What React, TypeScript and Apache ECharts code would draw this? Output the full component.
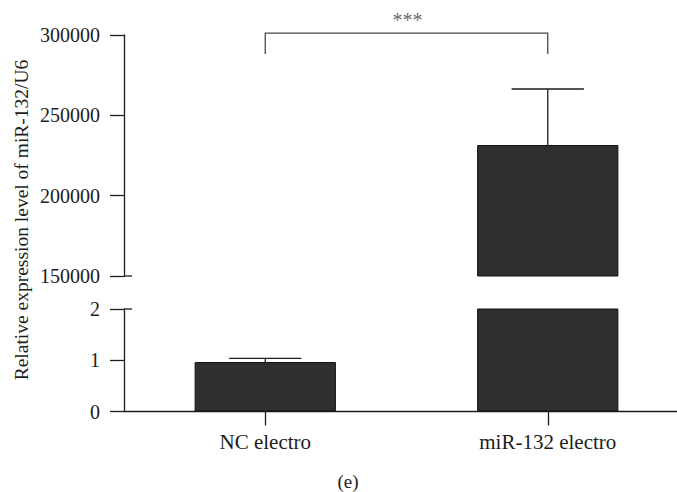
import React, { useEffect, useRef } from "react";
import * as echarts from "echarts";

// ---- data ----
const categories = ["NC electro", "miR-132 electro"];
const means = [0.965, 231500];
const errorsUp = [0.07, 34900];
// axis segments (broken axis)
const topAxis = { min: 150000, max: 300000, interval: 50000 };
const bottomAxis = { min: 0, max: 2, interval: 1 };
const significance = "***";
const bracketLevel = 301200;
const bracketDrop = 288200;
const yTitle = "Relative expression level of miR-132/U6";
const panelLabel = "(e)";

const FONT = "Liberation Serif";
const INK = "#1e1c1d";
const BAR = "#2e2f31";

export default function App() {
  const ref = useRef<HTMLDivElement>(null);
  useEffect(() => {
    if (!ref.current) return;
    const chart = echarts.init(ref.current, null, { renderer: "svg" });
    const errData = categories.map((_, i) => [i, means[i], errorsUp[i]]);

    const errSeries = (gi: number, lo: number, hi: number) => ({
      type: "custom",
      xAxisIndex: gi,
      yAxisIndex: gi,
      clip: false,
      z: 5,
      data: errData,
      encode: { x: 0, y: 1 },
      renderItem: (params: any, api: any) => {
        const idx = api.value(0);
        const m = api.value(1);
        const e = api.value(2);
        if (m < lo || m > hi) return null;
        const b = api.coord([idx, m]);
        const t = api.coord([idx, m + e]);
        const half = api.size([1, 0])[0] * 0.128;
        const st = { stroke: INK, lineWidth: 1.3 };
        return {
          type: "group",
          children: [
            { type: "line", shape: { x1: b[0], y1: b[1], x2: t[0], y2: t[1] }, style: st },
            { type: "line", shape: { x1: t[0] - half, y1: t[1], x2: t[0] + half, y2: t[1] }, style: st },
          ],
        };
      },
    });

    const breakTick = (gi: number, atBottom: boolean) => ({
      type: "custom",
      xAxisIndex: gi,
      yAxisIndex: gi,
      clip: false,
      data: [[0, 0]],
      renderItem: (params: any) => {
        const cs = params.coordSys;
        const y = atBottom ? cs.y + cs.height : cs.y;
        return {
          type: "line",
          shape: { x1: cs.x, y1: y, x2: cs.x + 8, y2: y },
          style: { stroke: INK, lineWidth: 1.3 },
        };
      },
    });

    const yAxisCommon = {
      type: "value",
      axisLine: { show: true, lineStyle: { color: INK, width: 1.3 } },
      axisTick: { show: true, length: 14, lineStyle: { color: INK, width: 1.3 } },
      axisLabel: {
        fontFamily: FONT,
        fontSize: 20,
        color: INK,
        margin: 24,
        formatter: (v: number) => String(v),
      },
      splitLine: { show: false },
    };

    chart.setOption({
      animation: false,
      grid: [
        { left: 124, right: -12, top: 35, height: 241, outerBoundsMode: "none", containLabel: false },
        { left: 124, right: -12, top: 309, height: 102.5, outerBoundsMode: "none", containLabel: false },
      ],
      xAxis: [
        { type: "category", gridIndex: 0, data: categories, show: false },
        {
          type: "category",
          gridIndex: 1,
          data: categories,
          axisLine: { show: true, lineStyle: { color: INK, width: 1.3 } },
          axisTick: { show: true, alignWithLabel: true, length: 14, lineStyle: { color: INK, width: 1.3 } },
          axisLabel: { fontFamily: FONT, fontSize: 21, color: INK, margin: 20 },
        },
      ],
      yAxis: [
        { ...yAxisCommon, gridIndex: 0, min: topAxis.min, max: topAxis.max, interval: topAxis.interval },
        { ...yAxisCommon, gridIndex: 1, min: bottomAxis.min, max: bottomAxis.max, interval: bottomAxis.interval },
      ],
      series: [
        {
          type: "bar",
          xAxisIndex: 0,
          yAxisIndex: 0,
          data: means,
          barWidth: "50%",
          clip: true,
          itemStyle: { color: BAR, borderColor: "#111", borderWidth: 1 },
        },
        {
          type: "bar",
          xAxisIndex: 1,
          yAxisIndex: 1,
          data: means,
          barWidth: "50%",
          clip: true,
          itemStyle: { color: BAR, borderColor: "#111", borderWidth: 1 },
        },
        errSeries(0, topAxis.min, topAxis.max),
        errSeries(1, bottomAxis.min, bottomAxis.max),
        breakTick(0, true),
        breakTick(1, false),
        {
          type: "custom",
          xAxisIndex: 0,
          yAxisIndex: 0,
          clip: false,
          data: [[0, bracketLevel]],
          renderItem: (params: any, api: any) => {
            const a = api.coord([0, bracketLevel]);
            const b = api.coord([1, bracketLevel]);
            const da = api.coord([0, bracketDrop]);
            return {
              type: "group",
              children: [
                {
                  type: "polyline",
                  shape: { points: [[a[0], da[1]], [a[0], a[1]], [b[0], b[1]], [b[0], da[1]]] },
                  style: { stroke: "#4a4a4a", lineWidth: 1.3, fill: null },
                },
                {
                  type: "text",
                  x: (a[0] + b[0]) / 2 + 1,
                  y: a[1] - 3,
                  style: {
                    text: significance,
                    fontFamily: FONT,
                    fontSize: 20,
                    fill: "#6a6a6a",
                    align: "center",
                    verticalAlign: "bottom",
                  },
                },
              ],
            };
          },
        },
      ],
      graphic: [
        {
          type: "text",
          x: 21,
          y: 220,
          rotation: Math.PI / 2,
          style: {
            text: yTitle,
            fontFamily: FONT,
            fontSize: 19.5,
            fill: INK,
            align: "center",
            verticalAlign: "middle",
          },
        },
        {
          type: "text",
          x: 348,
          y: 481,
          style: {
            text: panelLabel,
            fontFamily: FONT,
            fontSize: 19,
            fill: INK,
            align: "center",
            verticalAlign: "middle",
          },
        },
      ],
    });
    return () => chart.dispose();
  }, []);
  return (
    <div
      ref={ref}
      style={{ position: "fixed", left: 0, top: 0, width: 677, height: 492, background: "#fff" }}
    />
  );
}
